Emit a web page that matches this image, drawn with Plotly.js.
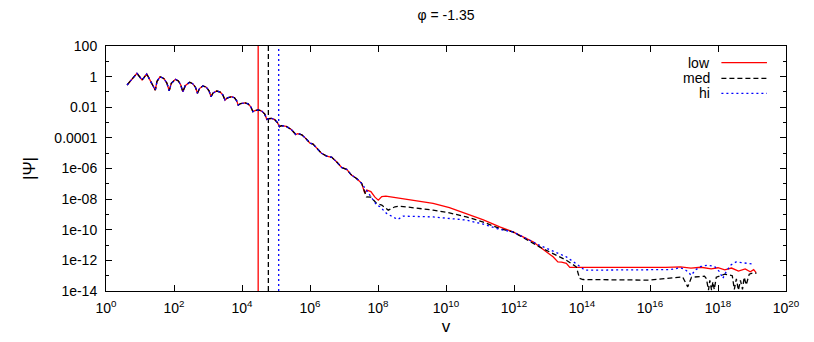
<!DOCTYPE html>
<html>
<head>
<meta charset="utf-8">
<script src="https://cdn.plot.ly/plotly-3.0.1.min.js"></script>
<style>
  body { margin: 0; background: #fff; }
  #myDiv { width: 814px; height: 342px; }
</style>
</head>
<body>
<div id="myDiv"></div>
<script>
// part of the curve that all three resolutions share
var vCommon = [4.17, 8.13, 11.5, 15.8, 28.2, 31.6, 38.9, 50.1, 61.7, 72.4, 83.2, 110, 135, 158, 182, 214, 288, 355, 427, 490,
  562, 708, 891, 1072, 1230, 1413, 1820, 2291, 2754, 3162, 3715, 5012, 6026, 6918, 7762, 9120, 1.23e4, 1.51e4, 1.82e4, 2.09e4,
  2.40e4, 3.02e4, 3.80e4, 4.68e4, 5.37e4, 6.03e4, 7.41e4, 9.12e4, 1.10e5, 1.26e5, 1.45e5, 2.0e5, 2.82e5, 3.80e5, 4.37e5, 5.75e5,
  7.59e5, 1.0e6, 1.23e6, 1.74e6, 2.19e6, 3.09e6, 4.37e6, 6.03e6, 8.51e6, 1.20e7, 1.66e7, 2.34e7, 3.31e7];
var psiCommon = [0.282, 1.66, 0.603, 1.48, 0.132, 0.490, 0.977, 0.759, 0.380, 0.120, 0.363, 0.661, 0.525, 0.282, 0.102, 0.257, 0.427, 0.347, 0.204, 0.0813,
  0.166, 0.245, 0.204, 0.117, 0.0490, 0.0851, 0.115, 0.0977, 0.0617, 0.0295, 0.0407, 0.0490, 0.0417, 0.0275, 0.0138, 0.0174, 0.0195, 0.0166, 0.0107, 0.00513,
  0.00603, 0.00661, 0.00562, 0.00355, 0.00162, 0.00178, 0.00186, 0.00158, 0.00100, 5.37e-4, 6.31e-4, 5.62e-4, 3.55e-4, 1.66e-4, 1.91e-4, 1.58e-4,
  8.91e-5, 4.57e-5, 3.89e-5, 1.58e-5, 9.77e-6, 6.46e-6, 5.37e-6, 2.75e-6, 1.17e-6, 8.71e-7, 3.72e-7, 2.24e-7, 1.07e-7];

// low
var vLow = [4.07e7, 4.68e7, 6.17e7, 8.13e7, 1.02e8, 1.29e8, 1.70e8, 4.37e8, 1.35e9, 4.17e9, 1.26e10, 3.98e10, 1.26e11, 3.80e11, 9.33e11,
  3.63e12, 1.41e13, 1.95e13, 2.51e13, 3.47e13, 4.37e13, 2.9e16, 7.9e16, 1.6e17, 3.16e17, 6.3e17, 1e18, 1.58e18, 2.5e18, 4e18,
  6.3e18, 8.9e18, 1.12e19, 1.32e19];
var psiLow = [2.45e-8, 3.89e-8, 3.09e-8, 1.35e-8, 8.51e-9, 1.45e-8, 1.58e-8, 1.12e-8, 7.94e-9, 5.25e-9, 2.75e-9, 1.17e-9, 4.47e-10, 1.55e-10, 7.24e-11,
  1.62e-11, 1.70e-12, 7.94e-13, 7.59e-13, 6.31e-13, 3.47e-13, 3.47e-13, 3.8e-13, 3.16e-13, 3.55e-13, 2.8e-13, 3.3e-13, 2.4e-13, 3.16e-13, 2e-13,
  2.8e-13, 1.78e-13, 2.5e-13, 1.58e-13];

// med
var vMed = [4.57e7, 6.17e7, 9.12e7, 1.29e8, 2.0e8, 3.16e8, 4.37e8, 4.17e9, 1.26e10, 3.98e10, 1.26e11, 3.80e11, 9.33e11, 5.62e12, 3.47e13,
  6.76e13, 8.51e13, 1.07e14, 9.8e15, 9.1e16, 1.29e17, 1.66e17, 4e17, 4.57e17, 5.25e17, 5.75e17, 6.46e17, 7.08e17, 7.76e17, 8.9e17,
  1.58e18, 2.63e18, 3.02e18, 3.47e18, 3.98e18, 4.57e18, 5.25e18, 5.89e18, 6.76e18, 8.3e18, 1.17e19, 1.35e19];
var psiMed = [1.41e-8, 1.35e-8, 5.25e-9, 4.07e-9, 1.91e-9, 3.16e-9, 3.47e-9, 1.91e-9, 1.26e-9, 6.92e-10, 3.16e-10, 1.20e-10, 7.24e-11, 7.59e-12, 1.02e-12,
  3.80e-13, 6.61e-14, 5.62e-14, 5.13e-14, 8.3e-14, 1.86e-14, 7.9e-14, 9.3e-14, 6.3e-14, 1.12e-14, 5e-14, 1.12e-14, 4e-14, 1.26e-14, 7.9e-14,
  1.26e-13, 1e-13, 1.26e-14, 6.3e-14, 1.12e-14, 5e-14, 1.26e-14, 7.9e-14, 2.5e-14, 1.26e-13, 1.58e-13, 1.41e-13];

// hi
var vHi = [5.75e7, 9.12e7, 1.15e8, 1.78e8, 3.80e8, 5.50e8, 4.17e9, 1.26e10, 3.98e10, 1.26e11, 3.80e11, 9.33e11, 5.62e12, 3.47e13, 6.76e13,
  9.55e13, 1.20e14, 3.0e16, 4e16, 7.6e16, 1e17, 1.32e17, 1.62e17, 2.24e17, 3.16e17, 5.0e17, 7.9e17, 1.12e18, 1.38e18, 1.78e18,
  2.4e18, 3.4e18, 5.9e18, 1.17e19];
var psiHi = [1.82e-8, 4.07e-9, 3.16e-9, 1.17e-9, 4.68e-10, 7.76e-10, 6.92e-10, 5.62e-10, 4.27e-10, 2.29e-10, 1.05e-10, 7.24e-11, 9.77e-12, 1.70e-12, 6.31e-13,
  3.47e-13, 2.29e-13, 2.29e-13, 2.5e-13, 3.24e-13, 2.8e-13, 1.78e-13, 1.07e-13, 2.5e-13, 4e-13, 4.9e-13, 4e-13, 1.78e-13, 6.6e-14, 2e-13,
  5e-13, 7.9e-13, 6.6e-13, 5.6e-13];

// vertical markers, one per resolution
var vMark = [2.99e4, 5.96e4, 1.2e5];

var names = ['low', 'med', 'hi'];
var colors = ['#ff0000', '#000000', '#0000ff'];
var dashes = ['solid', '5px,3px', '2px,3px'];

var xTickVals = [1, 1e2, 1e4, 1e6, 1e8, 1e10, 1e12, 1e14, 1e16, 1e18, 1e20];
var xTickText = ['10<sup>0</sup>', '10<sup>2</sup>', '10<sup>4</sup>', '10<sup>6</sup>', '10<sup>8</sup>', '10<sup>10</sup>',
  '10<sup>12</sup>', '10<sup>14</sup>', '10<sup>16</sup>', '10<sup>18</sup>', '10<sup>20</sup>'];
var yTickVals = [1e2, 1, 1e-2, 1e-4, 1e-6, 1e-8, 1e-10, 1e-12, 1e-14];
var yTickText = ['100', '1', '0.01', '0.0001', '1e-06', '1e-08', '1e-10', '1e-12', '1e-14'];
var yMinorVals = [1e1, 1e-1, 1e-3, 1e-5, 1e-7, 1e-9, 1e-11, 1e-13];

var tails = [[vLow, psiLow], [vMed, psiMed], [vHi, psiHi]];
var data = [];

// vertical lines go underneath
for (var i = 0; i < 3; i++) {
  data.push({
    x: [vMark[i], vMark[i]],
    y: [1e-14, 1e2],
    mode: 'lines',
    type: 'scatter',
    showlegend: false,
    hoverinfo: 'skip',
    line: {color: colors[i], width: 1.3, dash: dashes[i]}
  });
}
for (var i = 0; i < 3; i++) {
  data.push({
    x: vCommon.concat(tails[i][0]),
    y: psiCommon.concat(tails[i][1]),
    mode: 'lines',
    type: 'scatter',
    name: names[i],
    showlegend: false,
    line: {color: colors[i], width: 1.3, dash: dashes[i]}
  });
}

// gnuplot style key: text on the left, sample on the right
var annotations = [];
var shapes = [];
var keyY = [0.932, 0.868, 0.807];
for (var i = 0; i < 3; i++) {
  annotations.push({
    xref: 'paper', yref: 'paper',
    x: 0.891, y: keyY[i],
    xanchor: 'right', yanchor: 'middle',
    text: names[i], showarrow: false,
    font: {size: 14}
  });
  shapes.push({
    type: 'line', xref: 'paper', yref: 'paper',
    x0: 0.905, x1: 0.972, y0: keyY[i], y1: keyY[i],
    line: {color: colors[i], width: 1.3, dash: dashes[i]}
  });
}

var layout = {
  width: 814,
  height: 342,
  margin: {l: 106, r: 28, t: 46, b: 51},
  paper_bgcolor: '#fff',
  plot_bgcolor: '#fff',
  font: {family: 'Liberation Sans, Arial, sans-serif', size: 14, color: '#000'},
  showlegend: false,
  title: {
    text: '\u03c6 = -1.35',
    x: 0.5, xref: 'paper',
    y: 0.955, yref: 'container', yanchor: 'middle',
    font: {size: 14}
  },
  xaxis: {
    type: 'log',
    range: [0, 20],
    tickmode: 'array',
    tickvals: xTickVals,
    ticktext: xTickText,
    ticks: 'inside',
    ticklen: 6,
    tickcolor: '#000',
    ticklabelstandoff: 4,
    showline: true,
    linecolor: '#000',
    linewidth: 1,
    mirror: 'allticks',
    showgrid: false,
    zeroline: false,
    title: {text: 'v', standoff: 5}
  },
  yaxis: {
    type: 'log',
    range: [-14, 2],
    tickmode: 'array',
    tickvals: yTickVals,
    ticktext: yTickText,
    ticks: 'inside',
    ticklen: 6,
    tickcolor: '#000',
    ticklabelstandoff: 5,
    minor: {tickmode: 'array', tickvals: yMinorVals, ticks: 'inside', ticklen: 3, tickcolor: '#000', showgrid: false},
    showline: true,
    linecolor: '#000',
    linewidth: 1,
    mirror: 'allticks',
    showgrid: false,
    zeroline: false,
    title: {text: '|\u03a8|', standoff: 14}
  },
  annotations: annotations,
  shapes: shapes
};

Plotly.newPlot('myDiv', data, layout, {displayModeBar: false});
</script>
</body>
</html>
